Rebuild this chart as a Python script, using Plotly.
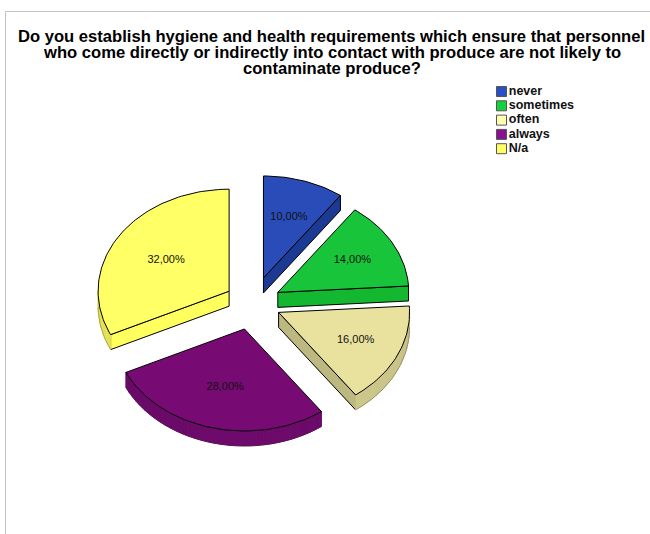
import math
import plotly.graph_objects as go

categories = ["never", "sometimes", "often", "always", "N/a"]
percent = [10, 14, 16, 28, 32]
labels = ["10,00%", "14,00%", "16,00%", "28,00%", "32,00%"]
top_colors = ["#2A4CB8", "#17C43A", "#E9E29F", "#780A74", "#FFFF66"]
edge_colors = ["#1C3A94", "#14B830", "#BDB87F", "#5F0560", "#FFFF5E"]
wall_colors = ["#1C3A94", "#14B830", "#D2CC8E", "#6E0A6C", "#F0EC5C"]
legend_colors = ["#2A50C8", "#17D040", "#FFFFB0", "#8A1090", "#FFFF66"]
explode = [0.258, 0.216, 0.216, 0.263, 0.216]
label_frac = [0.63, 0.65, 0.65, 0.59, 0.57]
title_lines = [
    "Do you establish hygiene and health requirements which ensure that personnel",
    "who come directly or indirectly into contact with produce are not likely to",
    "contaminate produce?",
]

CX, CY, A, B, DEPTH = 253, 303, 131, 102, 15
FONT = "Liberation Sans"


def pt(ox, oy, deg):
    t = math.radians(deg)
    return ox + A * math.sin(t), oy - B * math.cos(t)


def arc(ox, oy, a0, a1, dy=0):
    n = max(2, int(abs(a1 - a0) / 1.5))
    pts = [pt(ox, oy + dy, a0 + (a1 - a0) * i / n) for i in range(n + 1)]
    return [p[0] for p in pts], [p[1] for p in pts]


def shade(hex_color, f):
    rgb = [int(hex_color[i:i + 2], 16) for i in (1, 3, 5)]
    return "rgb(%d,%d,%d)" % tuple(min(255, round(c * f)) for c in rgb)


fig = go.Figure()


def poly(xs, ys, fill, line="#000000", width=1.0):
    fig.add_trace(go.Scatter(x=xs + xs[:1], y=ys + ys[:1], mode="lines", fill="toself",
                             fillcolor=fill, line=dict(color=line, width=width),
                             hoverinfo="skip", showlegend=False))


total = sum(percent)
start = 0.0
label_x, label_y = [], []
for i, v in enumerate(percent):
    end = start + 360.0 * v / total
    mid = math.radians((start + end) / 2)
    ox = CX + A * explode[i] * math.sin(mid)
    oy = CY - B * explode[i] * math.cos(mid)
    # radial side walls that face the viewer
    for edge, visible in ((end, math.sin(math.radians(end)) > 1e-6),
                          (start, math.sin(math.radians(start)) < -1e-6)):
        if visible:
            px, py = pt(ox, oy, edge)
            poly([ox, px, px, ox], [oy, py, py + DEPTH, oy + DEPTH], edge_colors[i])
    # outer curved wall, front half only, in shaded strips
    w0, w1 = max(start, 90.0), min(end, 270.0)
    if w1 > w0:
        steps = max(1, int((w1 - w0) / 3))
        for k in range(steps):
            s0 = w0 + (w1 - w0) * k / steps
            s1 = w0 + (w1 - w0) * (k + 1) / steps
            xa, ya = arc(ox, oy, s0, s1)
            xb, yb = arc(ox, oy, s1, s0, DEPTH)
            f = 0.94 + 0.06 * (1 - abs((s0 + s1) / 2 - 180) / 90)
            c = shade(wall_colors[i], f)
            poly(xa + xb, ya + yb, c, line=c, width=1)
        xa, ya = arc(ox, oy, w0, w1, DEPTH)
        fig.add_trace(go.Scatter(x=xa, y=ya, mode="lines",
                                 line=dict(color="rgba(40,40,40,0.5)", width=0.6),
                                 hoverinfo="skip", showlegend=False))
    # top face
    xa, ya = arc(ox, oy, start, end)
    poly([ox] + xa, [oy] + ya, top_colors[i])
    label_x.append(ox + label_frac[i] * A * math.sin(mid))
    label_y.append(oy - label_frac[i] * B * math.cos(mid))
    start = end

fig.add_trace(go.Scatter(x=label_x, y=label_y, mode="text", text=labels,
                         textfont=dict(family=FONT, size=11, color="#111111"),
                         hoverinfo="skip", showlegend=False))

# legend key
LX, LY, LSTEP = 501.5, 91.5, 14.3
fig.add_trace(go.Scatter(
    x=[LX] * len(categories), y=[LY + LSTEP * i for i in range(len(categories))],
    mode="markers+text", text=categories, textposition="middle right",
    textfont=dict(family=FONT, size=12.5, color="#111111", weight="bold"),
    marker=dict(symbol="square", size=10, color=legend_colors,
                line=dict(color="#555555", width=1)),
    hoverinfo="skip", showlegend=False))

fig.update_layout(
    width=650, height=534, margin=dict(l=0, r=0, t=0, b=0),
    paper_bgcolor="white", plot_bgcolor="white", showlegend=False,
    xaxis=dict(range=[0, 650], visible=False, fixedrange=True),
    yaxis=dict(range=[534, 0], visible=False, fixedrange=True),
    shapes=[
        dict(type="line", x0=5.5, x1=650, y0=11.5, y1=11.5, line=dict(color="#C4C4C4", width=1)),
        dict(type="line", x0=5.5, x1=5.5, y0=11.5, y1=534, line=dict(color="#C4C4C4", width=1)),
    ],
    annotations=[
        dict(x=331.5, y=36 + 16.3 * i, xref="x", yref="y", text=line, showarrow=False,
             xanchor="center", yanchor="middle",
             font=dict(family=FONT, size=16.6, color="#000000", weight="bold"))
        for i, line in enumerate(title_lines)
    ],
)
fig.write_html("out.html", config={"displayModeBar": False},
               post_script="document.body.style.margin='0';")
